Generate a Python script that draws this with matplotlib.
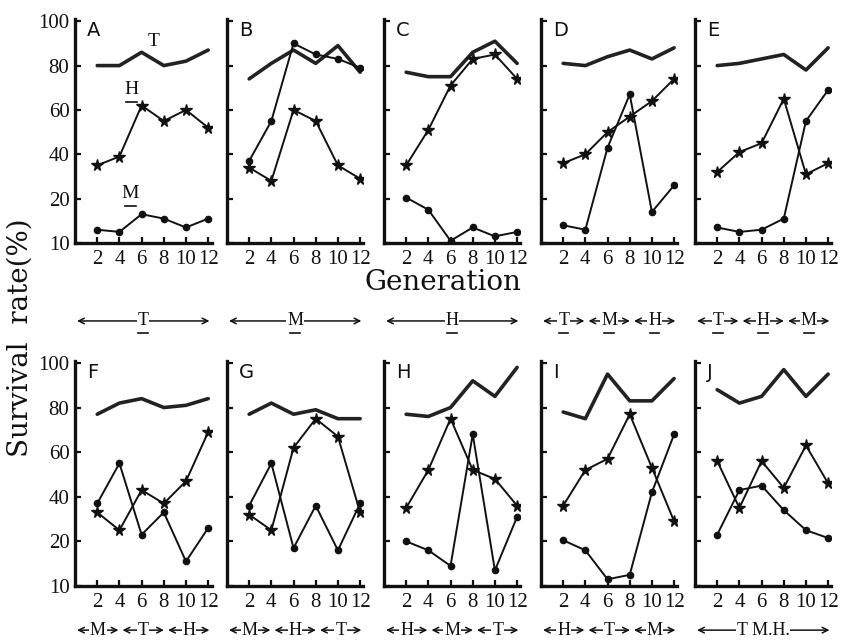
"""
Survival rate per generation, panels A-J (T, H, M lines).
"""
import numpy as np
import matplotlib
matplotlib.use('Agg')
import matplotlib.pyplot as plt
from matplotlib.transforms import ScaledTranslation

gens = [2, 4, 6, 8, 10, 12]
panel_names = ['A', 'B', 'C', 'D', 'E', 'F', 'G', 'H', 'I', 'J']

# thick line, no markers
T_vals = {
    'A': [80, 80, 86, 80, 82, 87],
    'B': [74, 81, 87, 81, 89, 77],
    'C': [77, 75, 75, 86, 91, 81],
    'D': [81, 80, 84, 87, 83, 88],
    'E': [80, 81, 83, 85, 78, 88],
    'F': [77, 82, 84, 80, 81, 84],
    'G': [77, 82, 77, 79, 75, 75],
    'H': [77, 76, 80, 92, 85, 98],
    'I': [78, 75, 95, 83, 83, 93],
    'J': [88, 82, 85, 97, 85, 95],
}
# stars
H_vals = {
    'A': [35, 39, 62, 55, 60, 52],
    'B': [34, 28, 60, 55, 35, 29],
    'C': [35, 51, 71, 83, 85, 74],
    'D': [36, 40, 50, 57, 64, 74],
    'E': [32, 41, 45, 65, 31, 36],
    'F': [33, 25, 43, 37, 47, 69],
    'G': [32, 25, 62, 75, 67, 33],
    'H': [35, 52, 75, 52, 48, 36],
    'I': [36, 52, 57, 77, 53, 29],
    'J': [56, 35, 56, 44, 63, 46],
}
# circles
M_vals = {
    'A': [13, 12.5, 16.5, 15.5, 13.5, 15.5],
    'B': [37, 55, 90, 85, 83, 79],
    'C': [20.5, 17.5, 10.5, 13.5, 11.5, 12.5],
    'D': [14, 13, 43, 67, 17, 26],
    'E': [13.5, 12.5, 13, 15.5, 55, 69],
    'F': [37, 55, 23, 33, 15.5, 26],
    'G': [36, 55, 18.5, 36, 18, 37],
    'H': [20, 18, 14.5, 68, 13.5, 31],
    'I': [20.5, 18, 11.5, 12.5, 42, 68],
    'J': [23, 43, 45, 34, 25, 21.5],
}

yticks = [10, 20, 40, 60, 80, 100]

# labels between the rows (top panels, underlined) and under the bottom row
top_seq = [['T'], ['M'], ['H'], ['T', 'M', 'H'], ['T', 'H', 'M']]
bottom_seq = [['M', 'T', 'H'], ['M', 'H', 'T'], ['H', 'M', 'T'],
              ['H', 'T', 'M'], ['T M.H.']]

SERIF = 'Liberation Serif'
INK = '#111111'


# the 10-20 band is drawn as tall as a 20-unit step
def fwd(v):
    v = np.asarray(v, dtype=float)
    return np.where(v >= 20, v, 2 * v - 20)


def inv(y):
    y = np.asarray(y, dtype=float)
    return np.where(y >= 20, y, (y + 20) / 2)


def underline(ax, x, y, half, drop, transform):
    t = transform + ScaledTranslation(0, -drop / 72, ax.figure.dpi_scale_trans)
    ax.plot([x - half, x + half], [y, y], transform=t, color=INK,
            lw=1.2, clip_on=False)


def seq_label(ax, letters, y, ul=False, fs=13):
    n = len(letters)
    for i, s in enumerate(letters):
        x0, x1 = i / n + 0.015, (i + 1) / n - 0.015
        ax.annotate('', xy=(x0, y), xytext=(x1, y), xycoords='axes fraction',
                    textcoords='axes fraction', annotation_clip=False,
                    arrowprops=dict(arrowstyle='<->', lw=1.1, color=INK,
                                    shrinkA=0, shrinkB=0))
        xc = (x0 + x1) / 2
        ax.text(xc, y, s, transform=ax.transAxes, ha='center', va='center',
                fontsize=fs, family=SERIF, color=INK, zorder=6,
                bbox=dict(fc='white', ec='none', pad=0.5))
        if ul:
            underline(ax, xc, y, 0.035, 9, ax.transAxes)


fig = plt.figure(figsize=(8.45, 6.4), dpi=100)
lefts = [0.0888, 0.2686, 0.4544, 0.6402, 0.8225]
width = 0.1615
rows = [(0.6203, 0.350), (0.0844, 0.352)]

axes = []
for r, (bottom, height) in enumerate(rows):
    for c, left in enumerate(lefts):
        name = panel_names[r * 5 + c]
        ax = fig.add_axes([left, bottom, width, height])
        ax.set_yscale('function', functions=(fwd, inv))

        ax.plot(gens, T_vals[name], '-', color='#222222', lw=2.6,
                solid_capstyle='round')
        ax.plot(gens, H_vals[name], '*-', color=INK, lw=1.4, ms=8.5,
                mfc=INK, mec=INK)
        ax.plot(gens, M_vals[name], 'o-', color=INK, lw=1.4, ms=4.5)

        ax.set_xlim(0, 12.3)
        ax.set_ylim(10, 101)
        ax.set_xticks(gens)
        ax.set_yticks(yticks)
        ax.tick_params(direction='in', length=4, width=1.6, colors=INK)
        ax.tick_params(axis='x', pad=5)
        ax.tick_params(axis='y', pad=4)
        if c == 0:
            ax.set_yticklabels([str(t) for t in yticks])
        else:
            ax.set_yticklabels([])
        for lab in ax.get_xticklabels() + ax.get_yticklabels():
            lab.set_family(SERIF)
            lab.set_fontsize(15)
        for side in ('top', 'right'):
            ax.spines[side].set_visible(False)
        for side in ('left', 'bottom'):
            ax.spines[side].set_linewidth(2.4)
            ax.spines[side].set_color(INK)
        ax.patch.set_alpha(0)

        ax.text(0.09, 0.99, name, transform=ax.transAxes, ha='left', va='top',
                fontsize=14, family='DejaVu Sans', color=INK)
        axes.append(ax)

# series names in panel A
axA = axes[0]
for s, x, y in [('T', 7.1, 91), ('H', 5.1, 69), ('M', 5.0, 22.5)]:
    axA.text(x, y, s, ha='center', va='center', fontsize=14, family=SERIF,
             color=INK)
    if s != 'T':
        underline(axA, x, y, 0.5, 9, axA.transData)

for ax, seq in zip(axes[:5], top_seq):
    seq_label(ax, seq, -0.348, ul=True)
for ax, seq in zip(axes[5:], bottom_seq):
    seq_label(ax, seq, -0.196)

fig.text(0.524, 0.559, 'Generation', ha='center', va='center', fontsize=20,
         family='DejaVu Serif', color=INK)
fig.text(0.024, 0.472, 'Survival  rate(%)', ha='center', va='center',
         rotation=90, fontsize=20, family='DejaVu Serif', color=INK)

fig.savefig('out.png', dpi=100, facecolor='white')
